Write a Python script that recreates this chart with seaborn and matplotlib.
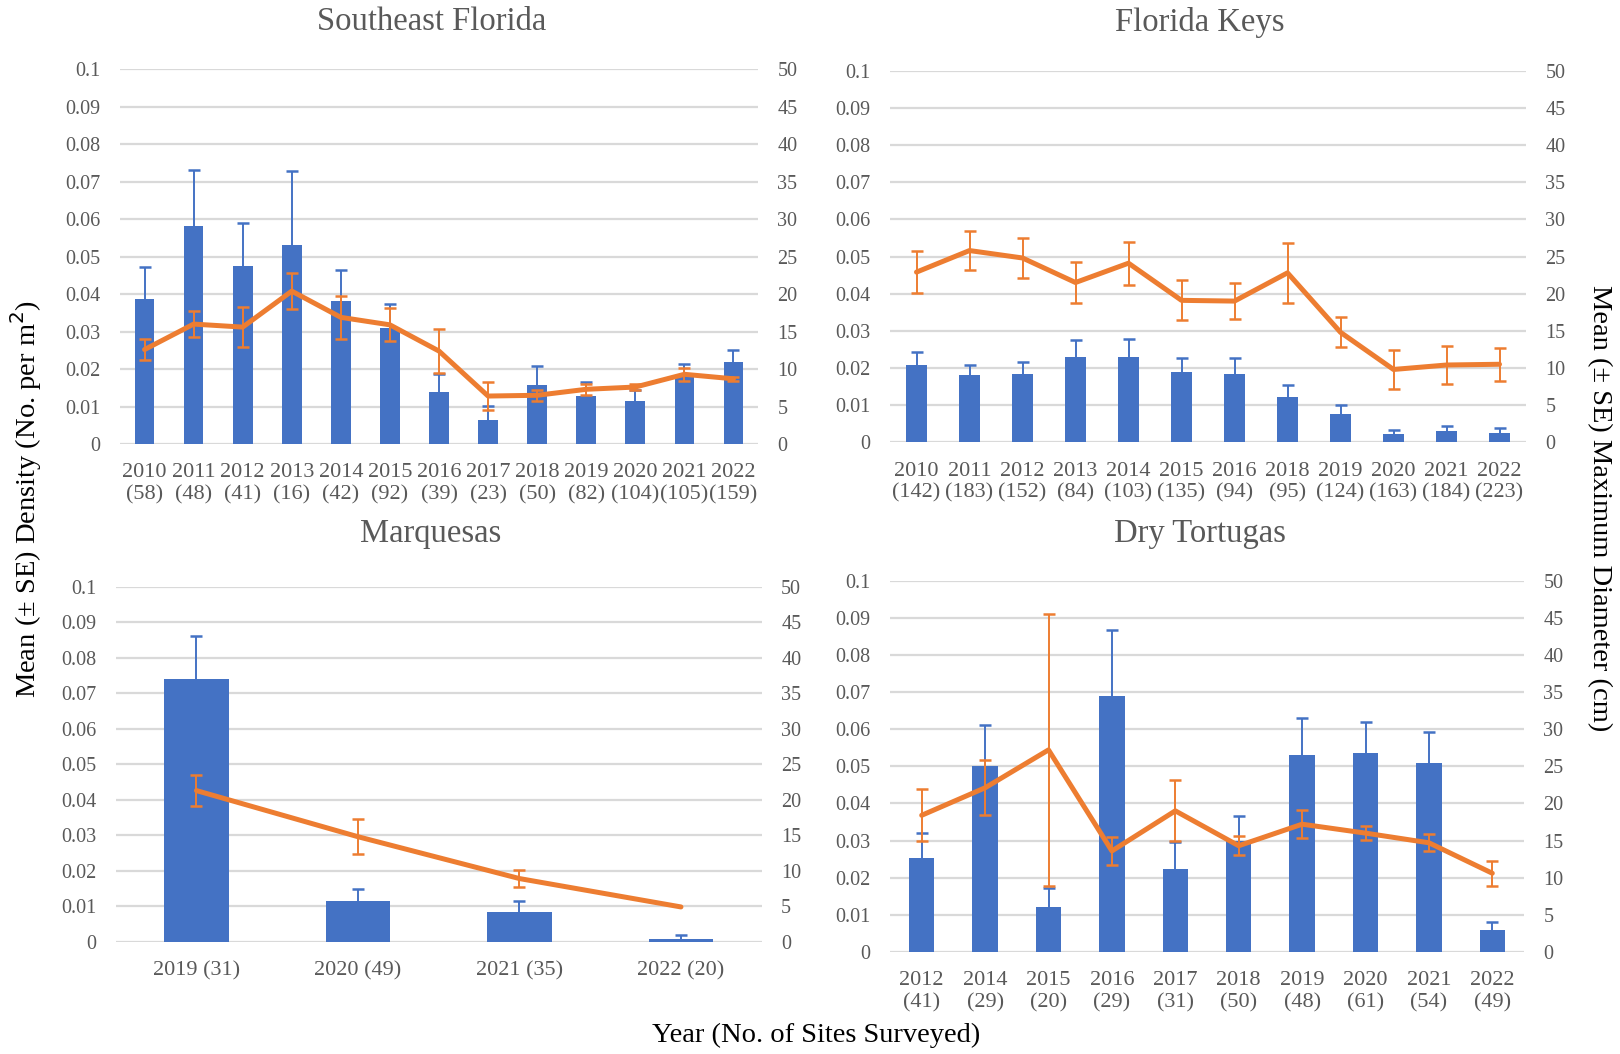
import numpy as np
import pandas as pd
import matplotlib
matplotlib.use("Agg")
import matplotlib.pyplot as plt
import seaborn as sns

# ---------------- data ----------------
sef_years = [2010, 2011, 2012, 2013, 2014, 2015, 2016, 2017, 2018, 2019, 2020, 2021, 2022]
sef_sites = [58, 48, 41, 16, 42, 92, 39, 23, 50, 82, 104, 105, 159]
sef_dens = [0.0387, 0.0583, 0.0475, 0.0532, 0.0381, 0.0309, 0.0140, 0.0065, 0.0158, 0.0128, 0.0116, 0.0185, 0.0218]
sef_dens_se = [0.0086, 0.0149, 0.0115, 0.0197, 0.0083, 0.0064, 0.0047, 0.0036, 0.0050, 0.0037, 0.0027, 0.0028, 0.0032]
sef_diam = [12.6, 16.0, 15.6, 20.4, 16.9, 15.9, 12.4, 6.4, 6.5, 7.3, 7.6, 9.3, 8.7]
sef_diam_se = [1.4, 1.7, 2.7, 2.4, 2.9, 2.2, 2.9, 1.9, 0.7, 0.75, 0.4, 0.85, 0.3]

fk_years = [2010, 2011, 2012, 2013, 2014, 2015, 2016, 2018, 2019, 2020, 2021, 2022]
fk_sites = [142, 183, 152, 84, 103, 135, 94, 95, 124, 163, 184, 223]
fk_dens = [0.0208, 0.0181, 0.0184, 0.0229, 0.0229, 0.0189, 0.0184, 0.0122, 0.0077, 0.0022, 0.0031, 0.0025]
fk_dens_se = [0.0034, 0.0028, 0.0031, 0.0045, 0.0048, 0.0039, 0.0044, 0.0033, 0.0023, 0.0011, 0.0012, 0.0014]
fk_diam = [22.9, 25.8, 24.8, 21.5, 24.1, 19.1, 19.0, 22.8, 14.8, 9.8, 10.4, 10.5]
fk_diam_se = [2.8, 2.6, 2.7, 2.8, 2.9, 2.7, 2.4, 4.0, 2.0, 2.6, 2.5, 2.2]

mq_years = [2019, 2020, 2021, 2022]
mq_sites = [31, 49, 35, 20]
mq_dens = [0.0741, 0.0116, 0.0085, 0.0007]
mq_dens_se = [0.0122, 0.0033, 0.0029, 0.0012]
mq_diam = [21.3, 14.8, 8.9, 4.9]
mq_diam_se = [2.2, 2.5, 1.2, np.nan]

dt_years = [2012, 2014, 2015, 2016, 2017, 2018, 2019, 2020, 2021, 2022]
dt_sites = [41, 29, 20, 29, 31, 50, 48, 61, 54, 49]
dt_dens = [0.0254, 0.0501, 0.0122, 0.0689, 0.0224, 0.0299, 0.0531, 0.0537, 0.0510, 0.0059]
dt_dens_se = [0.0066, 0.0110, 0.0051, 0.0178, 0.0073, 0.0066, 0.0099, 0.0081, 0.0083, 0.0021]
dt_diam = [18.4, 22.1, 27.2, 13.6, 19.0, 14.3, 17.2, 16.0, 14.7, 10.6]
dt_diam_se = [3.5, 3.7, 18.3, 1.9, 4.1, 1.3, 1.9, 0.95, 1.15, 1.7]

left_ticks = [0, 0.01, 0.02, 0.03, 0.04, 0.05, 0.06, 0.07, 0.08, 0.09, 0.1]
left_tick_labels = ["0", "0.01", "0.02", "0.03", "0.04", "0.05", "0.06", "0.07", "0.08", "0.09", "0.1"]
right_ticks = [0, 5, 10, 15, 20, 25, 30, 35, 40, 45, 50]

# ---------------- style ----------------
sns.set_theme(style="white")
plt.rcParams["font.family"] = ["Liberation Serif", "DejaVu Serif"]

BLUE = "#4472C4"
ORANGE = "#ED7D31"
GRID = "#D9D9D9"
TXT = "#595959"

W, H = 1620, 1054
fig = plt.figure(figsize=(W / 100, H / 100), dpi=100)


def make_axes(l, r, t, b):
    return fig.add_axes([l / W, 1 - b / H, (r - l) / W, (b - t) / H])


def panel(rect, years, sites, dens, dens_se, diam, diam_se, oneline=False):
    ax = make_axes(*rect)
    n = len(years)
    if oneline:
        labels = [f"{y} ({s})" for y, s in zip(years, sites)]
    else:
        labels = [f"{y}\n({s})" for y, s in zip(years, sites)]
    df = pd.DataFrame({"label": labels, "dens": dens})
    sns.barplot(data=df, x="label", y="dens", ax=ax, color=BLUE, saturation=1,
                width=0.4, errorbar=None, linewidth=0, zorder=3)
    x = np.arange(n)
    dv = np.asarray(dens, float)
    top = dv + np.asarray(dens_se, float)
    # upper-only error bars (stem + cap at the top)
    ax.vlines(x, dv, top, color=BLUE, lw=1.4, zorder=4)
    ax.plot(x, top, ls="none", marker="_", ms=9, mew=1.8, color=BLUE, zorder=4)
    ax.set_xlim(-0.5, n - 0.5)
    ax.set_ylim(0, 0.1)
    ax.set_yticks(left_ticks)
    ax.set_yticklabels(left_tick_labels)
    ax.yaxis.grid(True, color=GRID, lw=1.6, zorder=0)
    ax.set_axisbelow(True)
    ax.set_xlabel("")
    ax.set_ylabel("")
    for s in ax.spines.values():
        s.set_visible(False)
    ax.tick_params(axis="y", length=0, pad=14, labelsize=14.5, labelcolor=TXT)
    ax.tick_params(axis="x", length=0, pad=14, labelsize=16, labelcolor=TXT)

    ax2 = ax.twinx()
    sns.lineplot(x=x, y=diam, ax=ax2, color=ORANGE, lw=3.6, zorder=5)
    d = np.asarray(diam, float)
    e = np.asarray(diam_se, float)
    ok = np.isfinite(e)
    ax2.errorbar(x[ok], d[ok], yerr=e[ok], fmt="none", ecolor=ORANGE,
                 elinewidth=1.4, capsize=4.5, capthick=1.8, zorder=6)
    ax2.set_ylim(0, 50)
    ax2.set_yticks(right_ticks)
    ax2.set_ylabel("")
    for s in ax2.spines.values():
        s.set_visible(False)
    ax2.tick_params(axis="y", length=0, pad=14, labelsize=14.5, labelcolor=TXT)
    ax2.grid(False)
    return ax, ax2


panel((120, 758, 69.3, 444), sef_years, sef_sites, sef_dens, sef_dens_se, sef_diam, sef_diam_se)
panel((890, 1526, 70.7, 442.3), fk_years, fk_sites, fk_dens, fk_dens_se, fk_diam, fk_diam_se)
panel((115.7, 761.7, 587, 941.7), mq_years, mq_sites, mq_dens, mq_dens_se, mq_diam, mq_diam_se, oneline=True)
panel((890, 1524, 580.5, 952), dt_years, dt_sites, dt_dens, dt_dens_se, dt_diam, dt_diam_se)

# titles
for txt, cx, cy in [("Southeast Florida", 432, 22), ("Florida Keys", 1200, 22),
                    ("Marquesas", 431, 534), ("Dry Tortugas", 1200, 534)]:
    fig.text(cx / W, 1 - cy / H, txt, ha="center", va="center", fontsize=23.5, color=TXT)

fig.text(26 / W, 1 - 499 / H, "Mean (± SE) Density (No. per m$^2$)", rotation=90,
         ha="center", va="center", fontsize=20.5, color="black")
fig.text(1599 / W, 1 - 508 / H, "Mean (± SE) Maximum Diameter (cm)", rotation=270,
         ha="center", va="center", fontsize=20.5, color="black")
fig.text(816 / W, 1 - 1035 / H, "Year (No. of Sites Surveyed)", ha="center", va="center",
         fontsize=20.5, color="black")

fig.savefig("out.png", dpi=100, facecolor="white")
